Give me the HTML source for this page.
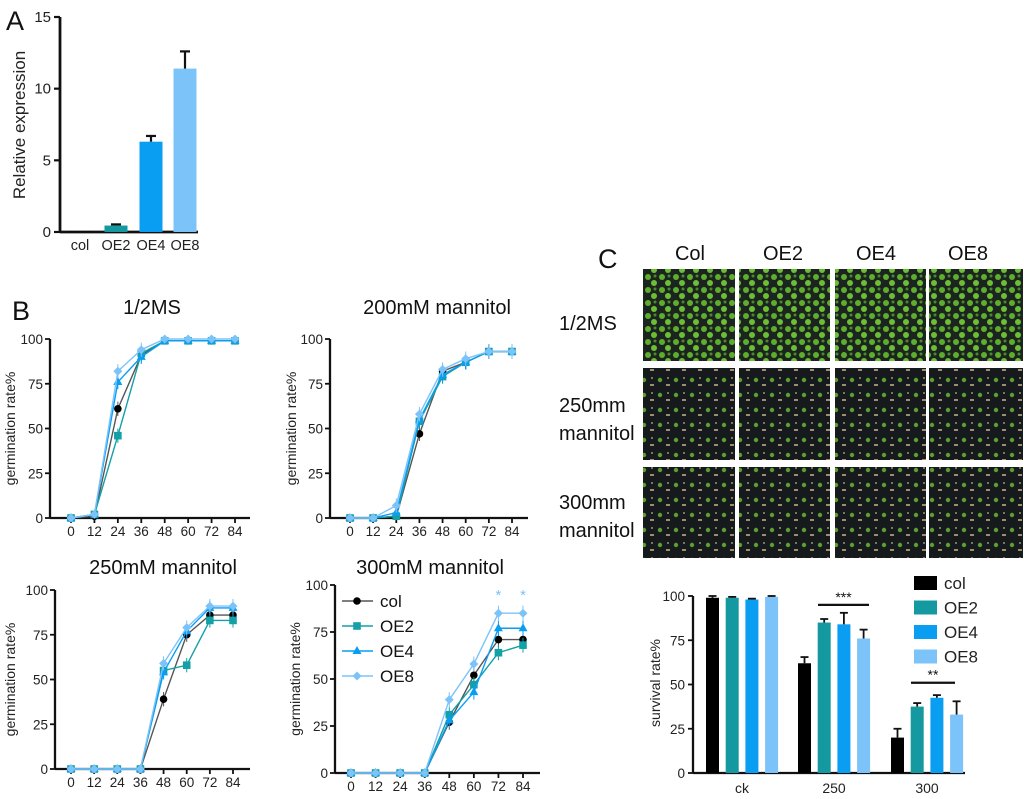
<!DOCTYPE html>
<html><head><meta charset="utf-8"><style>
html,body{margin:0;padding:0;background:#fff;}
svg{display:block;font-family:"Liberation Sans",Arial,sans-serif;}
</style></head><body>
<svg id="fig" width="1024" height="799" viewBox="0 0 1024 799" xmlns="http://www.w3.org/2000/svg">
<defs>
<pattern id="seedG" width="14" height="13" patternUnits="userSpaceOnUse"><rect width="14" height="13" fill="#1c2420"/><circle cx="4" cy="4" r="3" fill="#5cae2c"/><circle cx="10" cy="10" r="3" fill="#6cbe34"/><circle cx="11" cy="3" r="1.5" fill="#4a8a28"/></pattern>
<pattern id="seedD" width="16" height="15" patternUnits="userSpaceOnUse"><rect width="16" height="15" fill="#161a1c"/><circle cx="4" cy="5" r="2.2" fill="#5aa030"/><rect x="10" y="9" width="4" height="2" fill="#9a9070"/><circle cx="12" cy="3" r="1" fill="#8c9c70"/></pattern>
</defs>
</svg>
<script>
const NS='http://www.w3.org/2000/svg';
const svg=document.getElementById('fig');
function el(tag,attrs,parent,txt){const e=document.createElementNS(NS,tag);for(const k in attrs)e.setAttribute(k,attrs[k]);if(txt!==undefined)e.textContent=txt;(parent||svg).appendChild(e);return e;}

// ---------- Panel A data ----------
const aCategories=['col','OE2','OE4','OE8'];
const aValues=[0.02,0.45,6.3,11.4];
const aErrors=[0,0.08,0.4,1.2];
const aTicks=[0,5,10,15];
// ---------- Panel B data ----------
const bHours=[0,12,24,36,48,60,72,84];
const bTicks=[0,25,50,75,100];
const ms_col=[0,1,61,91,99,99,99,99];
const ms_oe2=[0,2,46,92,99,99,99,99];
const ms_oe4=[0,2,76,90,99,99,99,99];
const ms_oe8=[0,2,82,94,100,100,100,100];
const m200_col=[0,0,1,47,82,87,93,93];
const m200_oe2=[0,0,1,54,79,87,93,93];
const m200_oe4=[0,0,3,55,80,87,93,93];
const m200_oe8=[0,0,7,58,83,89,93,93];
const m250_col=[0,0,0,0,39,75,86,86];
const m250_oe2=[0,0,0,0,55,58,83,83];
const m250_oe4=[0,0,0,0,54,77,90,90];
const m250_oe8=[0,0,0,0,59,79,91,91];
const m300_col=[0,0,0,0,27,52,71,71];
const m300_oe2=[0,0,0,0,31,47,64,68];
const m300_oe4=[0,0,0,0,28,43,77,77];
const m300_oe8=[0,0,0,0,39,58,85,85];
// ---------- Panel C data ----------
const cGroups=['ck','250','300'];
const cCol=[99,62,20];
const cOE2=[99,85,37.5];
const cOE4=[98,84,42.5];
const cOE8=[99.5,76,33];
const cColErr=[1,3.5,5];
const cOE2Err=[0.5,2,2];
const cOE4Err=[0.5,6.5,1.5];
const cOE8Err=[0.5,5,7.5];
const cTicks=[0,25,50,75,100];

const colors={col:'#000000',OE2:'#13a0a6',OE4:'#0a9ef2',OE8:'#7cc3fa'};

// Panel letters
[['A',6,30],['B',12,320],['C',598,268]].forEach(([t,x,y])=>{
  const e=el('text',{x:x,y:y,'font-size':27,fill:'#111'},svg,t);
  
  
});

// ---------- Panel A ----------
(function(){
  const g=el('g',{});
  
  
  const x0=60,y0=232,yTop=17,xEnd=198;
  const sy=v=>y0-(v/15)*(y0-yTop);
  el('line',{x1:x0,y1:yTop,x2:x0,y2:y0,stroke:'#111','stroke-width':2.8},g);
  el('line',{x1:x0,y1:y0,x2:xEnd,y2:y0,stroke:'#111','stroke-width':2.8},g);
  aTicks.forEach(t=>{
    el('line',{x1:x0-6,y1:sy(t),x2:x0,y2:sy(t),stroke:'#111','stroke-width':2.2},g);
    const tx=el('text',{x:x0-9,y:sy(t)+5,'font-size':15,'text-anchor':'end',fill:'#222'},g,t);
    
    
  });
  const yl=el('text',{x:25,y:125,'font-size':17,'text-anchor':'middle',fill:'#222',transform:'rotate(-90 25 125)'},g,'Relative expression');
  
  
  const cx=[80,116,151,185],bw=23;
  const cols=['#000','#13999f','#0a9ef2','#7cc3fa'];
  aCategories.forEach((c,i)=>{
    const b=el('rect',{x:cx[i]-bw/2,y:sy(aValues[i]),width:bw,height:y0-sy(aValues[i]),fill:cols[i]},g);
    
    
    if(aErrors[i]>0){
      const yt=sy(aValues[i]+aErrors[i]);
      el('line',{x1:cx[i],y1:sy(aValues[i]),x2:cx[i],y2:yt,stroke:'#111','stroke-width':2.2},g);
      el('line',{x1:cx[i]-5,y1:yt,x2:cx[i]+5,y2:yt,stroke:'#111','stroke-width':2.2},g);
    }
    const t=el('text',{x:cx[i],y:250,'font-size':14.5,'text-anchor':'middle',fill:'#222'},g,c);
    
    
  });
})();

// ---------- Panel B ----------
function marker(g,type,x,y,color){
  if(type==='col') el('circle',{cx:x,cy:y,r:3.8,fill:color},g);
  else if(type==='OE2') el('rect',{x:x-3.8,y:y-3.8,width:7.6,height:7.6,fill:color},g);
  else if(type==='OE4') el('polygon',{points:`${x},${y-5} ${x+4.5},${y+3} ${x-4.5},${y+3}`,fill:color},g);
  else el('polygon',{points:`${x},${y-4.5} ${x+4.5},${y} ${x},${y+4.5} ${x-4.5},${y}`,fill:color},g);
}
function lineChart(opt){
  const g=el('g',{});
  
  
  const {ax,y0,yTop,x0,x84,xEnd}=opt;
  const sx=h=>x0+(h/84)*(x84-x0);
  const sy=v=>y0-(v/100)*(y0-yTop);
  el('line',{x1:ax,y1:yTop,x2:ax,y2:y0,stroke:'#111','stroke-width':2.3},g);
  el('line',{x1:ax,y1:y0,x2:xEnd,y2:y0,stroke:'#111','stroke-width':2.3},g);
  bTicks.forEach(t=>{
    el('line',{x1:ax-5,y1:sy(t),x2:ax,y2:sy(t),stroke:'#111','stroke-width':1.8},g);
    const tx=el('text',{x:ax-7,y:sy(t)+5,'font-size':13.5,'text-anchor':'end',fill:'#222'},g,t);
    
    
  });
  bHours.forEach(h=>{
    el('line',{x1:sx(h),y1:y0,x2:sx(h),y2:y0+5,stroke:'#111','stroke-width':1.8},g);
    const tx=el('text',{x:sx(h),y:y0+18,'font-size':13.5,'text-anchor':'middle',fill:'#222'},g,h);
    
    
  });
  const ym=(y0+yTop)/2, yx=opt.ylx;
  const yl=el('text',{x:yx,y:ym,'font-size':14,'text-anchor':'middle',fill:'#222',transform:`rotate(-90 ${yx} ${ym})`},g,'germination rate%');
  
  
  const tt=el('text',{x:opt.tx,y:opt.ty,'font-size':20,'text-anchor':'middle',fill:'#111'},g,opt.title);
  
  
  const series=[['col',opt.s[0],'#555'],['OE2',opt.s[1],colors.OE2],['OE4',opt.s[2],colors.OE4],['OE8',opt.s[3],colors.OE8]];
  series.forEach(([k,vals,lc])=>{
    const pts=bHours.map((h,i)=>sx(h)+','+sy(vals[i])).join(' ');
    const pl=el('polyline',{points:pts,fill:'none',stroke:lc,'stroke-width':1.4},g);
    
    
    bHours.forEach((h,i)=>{ if(vals[i]>5 && vals[i]<98){el('line',{x1:sx(h),y1:sy(vals[i]+4),x2:sx(h),y2:sy(vals[i]-4),stroke:k==='col'?'#555':colors[k],'stroke-width':1},g);} });
    bHours.forEach((h,i)=>marker(g,k,sx(h),sy(vals[i]),k==='col'?'#000':colors[k]));
  });
  return {g,sx,sy};
}
lineChart({name:'chart-half-ms',ax:50,y0:518,yTop:339,x0:71,x84:235,xEnd:250,ylx:15,tx:152,ty:314,title:'1/2MS',s:[ms_col,ms_oe2,ms_oe4,ms_oe8]});
lineChart({name:'chart-200mm',ax:330,y0:518,yTop:339,x0:350,x84:512,xEnd:528,ylx:296,tx:437,ty:314,title:'200mM mannitol',s:[m200_col,m200_oe2,m200_oe4,m200_oe8]});
lineChart({name:'chart-250mm',ax:55,y0:769,yTop:590,x0:71,x84:233,xEnd:250,ylx:15,tx:163,ty:574,title:'250mM mannitol',s:[m250_col,m250_oe2,m250_oe4,m250_oe8]});
const c4=lineChart({name:'chart-300mm',ax:335,y0:773,yTop:585,x0:351,x84:523,xEnd:540,ylx:300,tx:430,ty:574,title:'300mM mannitol',s:[m300_col,m300_oe2,m300_oe4,m300_oe8]});
[72,84].forEach(h=>{const s=el('text',{x:c4.sx(h),y:c4.sy(92),'font-size':15,'text-anchor':'middle',fill:colors.OE8},c4.g,'*');});
// legend for B
['col','OE2','OE4','OE8'].forEach((k,i)=>{
  const y=601+i*25;
  const lg=el('g',{},c4.g);
  
  
  el('line',{x1:342,y1:y,x2:373,y2:y,stroke:k==='col'?'#555':colors[k],'stroke-width':1.4},lg);
  marker(lg,k,357,y,k==='col'?'#000':colors[k]);
  el('text',{x:380,y:y+6,'font-size':17,fill:'#111'},lg,k);
});

// ---------- Panel C photos ----------
(function(){
  const colsX=[643,739,835,929],colW=[92,91,91,94];
  const rowsY=[269,368,467],rowH=[92,92,91];
  const colLabels=['Col','OE2','OE4','OE8'];
  const colCx=[690,783,876,968];
  colLabels.forEach((c,i)=>{const t=el('text',{x:colCx[i],y:260,'font-size':20,'text-anchor':'middle',fill:'#111'},svg,c);});
  [['1/2MS',330],['250mm',412],['mannitol',440],['300mm',509],['mannitol',537]].forEach(([t,y])=>{const e=el('text',{x:559,y:y,'font-size':20,fill:'#111'},svg,t);});
  rowsY.forEach((y,r)=>colsX.forEach((x,c)=>{
    const p=el('rect',{x:x,y:y,width:colW[c],height:rowH[r],fill:r===0?'url(#seedG)':'url(#seedD)'});
    
    
  }));
})();

// ---------- Panel C bar chart ----------
(function(){
  const g=el('g',{});
  
  
  const ax=693,y0=773,yTop=596,xEnd=965;
  const sy=v=>y0-(v/100)*(y0-yTop);
  el('line',{x1:ax,y1:yTop,x2:ax,y2:y0,stroke:'#111','stroke-width':2.3},g);
  el('line',{x1:ax,y1:y0,x2:xEnd,y2:y0,stroke:'#111','stroke-width':2.3},g);
  cTicks.forEach(t=>{
    el('line',{x1:ax-5,y1:sy(t),x2:ax,y2:sy(t),stroke:'#111','stroke-width':1.8},g);
    const tx=el('text',{x:ax-8,y:sy(t)+5,'font-size':13.5,'text-anchor':'end',fill:'#222'},g,t);
    
    
  });
  const yl=el('text',{x:660,y:683,'font-size':14,'text-anchor':'middle',fill:'#222',transform:'rotate(-90 660 683)'},g,'survival rate%');
  
  
  const groupStart=[706,798,891],step=19.7,bw=13;
  const series=[['col',cCol,cColErr,'#000'],['OE2',cOE2,cOE2Err,'#13999f'],['OE4',cOE4,cOE4Err,'#0a9ef2'],['OE8',cOE8,cOE8Err,'#7cc3fa']];
  cGroups.forEach((gname,gi)=>{
    series.forEach(([k,vals,errs,col],si)=>{
      const x=groupStart[gi]+si*step;
      const b=el('rect',{x:x,y:sy(vals[gi]),width:bw,height:y0-sy(vals[gi]),fill:col},g);
      
      
      const yt=sy(vals[gi]+errs[gi]),cx=x+bw/2;
      el('line',{x1:cx,y1:sy(vals[gi]),x2:cx,y2:yt,stroke:'#111','stroke-width':1.8},g);
      el('line',{x1:cx-4,y1:yt,x2:cx+4,y2:yt,stroke:'#111','stroke-width':1.8},g);
    });
    const t=el('text',{x:groupStart[gi]+step*1.5+bw/2,y:793,'font-size':14,'text-anchor':'middle',fill:'#222'},g,gname);
    
    
  });
  [[818,869,sy(95),'***'],[911,955,sy(51),'**']].forEach(([x1,x2,y,s])=>{
    el('line',{x1:x1,y1:y,x2:x2,y2:y,stroke:'#111','stroke-width':2.2},g);
    const t=el('text',{x:(x1+x2)/2,y:y-3,'font-size':14,'text-anchor':'middle',fill:'#111'},g,s);
    
    
  });
  ['col','OE2','OE4','OE8'].forEach((k,i)=>{
    const y=583+i*24.5;
    const lg=el('g',{},g);
    
    
    el('rect',{x:914,y:y-7,width:23,height:14,fill:['#000','#13999f','#0a9ef2','#7cc3fa'][i]},lg);
    el('text',{x:944,y:y+6,'font-size':17,fill:'#222'},lg,k);
  });
})();
</script>
</body></html>
